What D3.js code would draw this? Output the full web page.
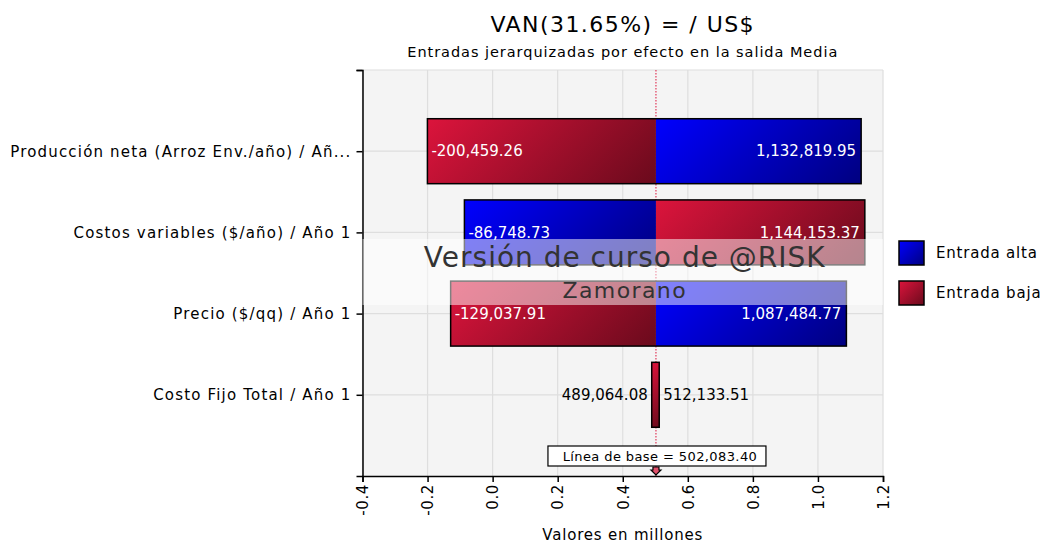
<!DOCTYPE html>
<html>
<head>
<meta charset="utf-8">
<script src="https://cdn.jsdelivr.net/npm/d3@7"></script>
<style>
  html, body { margin: 0; padding: 0; background: #fff; }
  svg { display: block; font-family: "DejaVu Sans", Verdana, sans-serif; }
</style>
</head>
<body>
<svg id="chart" width="1044" height="544"></svg>
<script>
// ---- data ----
const categories = [
  "Producción neta (Arroz Env./año) / Añ...",
  "Costos variables ($/año) / Año 1",
  "Precio ($/qq) / Año 1",
  "Costo Fijo Total / Año 1"
];
const leftValues  = [-200459.26, -86748.73, -129037.91, 489064.08];
const rightValues = [1132819.95, 1144153.37, 1087484.77, 512133.51];
const leftInput   = ["baja", "alta", "baja", "baja"];
const rightInput  = ["alta", "baja", "alta", "baja"];
const baselineValue = 502083.40;
const xTickValues = [-0.4, -0.2, 0.0, 0.2, 0.4, 0.6, 0.8, 1.0, 1.2];
const legendLabels = ["Entrada alta", "Entrada baja"];
const legendKeys = ["alta", "baja"];
const titleText = "VAN(31.65%) = / US$";
const subtitleText = "Entradas jerarquizadas por efecto en la salida Media";
const xAxisTitle = "Valores en millones";
const watermark1 = "Versión de curso de @RISK";
const watermark2 = "Zamorano";

// ---- layout ----
const svg = d3.select("#chart");
const plot = { left: 362.5, right: 883, top: 70, bottom: 476 };

const x = d3.scaleLinear().domain([-0.4, 1.2]).range([plot.left, plot.right]);
const y = d3.scaleLinear().domain([0, categories.length + 1]).range([plot.top, plot.bottom]);
const band = y(1) - y(0);
const barH = band * 0.8;

const hyph = s => s.replace(/\u2212/g, "-");
const fmt = v => hyph(d3.format(",.2f")(v));
const tickFmt = v => hyph(d3.format(".1f")(v));

const colors = {
  alta: ["#0000ff", "#000080"],
  baja: ["#dc143c", "#6a0a1c"]
};

// gradients (45 degrees in pixel space, per shape)
const defs = svg.append("defs");
let gid = 0;
function gradFor(key, rx, ry, w, h) {
  const id = "g" + (gid++);
  const s = (w + h) / 2;
  const g = defs.append("linearGradient").attr("id", id)
    .attr("gradientUnits", "userSpaceOnUse")
    .attr("x1", rx).attr("y1", ry).attr("x2", rx + s).attr("y2", ry + s);
  g.append("stop").attr("offset", "0%").attr("stop-color", colors[key][0]);
  g.append("stop").attr("offset", "100%").attr("stop-color", colors[key][1]);
  return `url(#${id})`;
}

// plot background
svg.append("rect").attr("x", plot.left).attr("y", plot.top)
  .attr("width", plot.right - plot.left).attr("height", plot.bottom - plot.top)
  .attr("fill", "#f4f4f4");

// grid
const grid = svg.append("g");
grid.selectAll("line.v").data(xTickValues).join("line")
  .attr("x1", d => x(d)).attr("x2", d => x(d))
  .attr("y1", plot.top).attr("y2", plot.bottom)
  .attr("stroke", "#dedede").attr("stroke-width", 1.2);
grid.selectAll("line.h").data(d3.range(0, categories.length + 1)).join("line")
  .attr("x1", plot.left).attr("x2", plot.right)
  .attr("y1", d => y(d)).attr("y2", d => y(d))
  .attr("stroke", "#dedede").attr("stroke-width", 1.2);

// baseline dotted line
const bx = x(baselineValue / 1e6);
svg.append("line").attr("x1", bx).attr("x2", bx)
  .attr("y1", plot.top).attr("y2", plot.bottom)
  .attr("stroke", "#dc143c").attr("stroke-width", 1).attr("stroke-dasharray", "1.5,1.5");

// bars
const rows = categories.map((c, i) => ({
  i, cat: c, lv: leftValues[i], rv: rightValues[i], li: leftInput[i], ri: rightInput[i]
}));
const bars = svg.append("g");
rows.forEach(r => {
  const cy = y(r.i + 1);
  const y0 = cy - barH / 2;
  const xl = x(r.lv / 1e6), xr = x(r.rv / 1e6);
  const single = r.li === r.ri;
  if (single) {
    bars.append("rect").attr("x", xl).attr("y", y0).attr("width", xr - xl).attr("height", barH)
      .attr("fill", gradFor(r.li, xl, y0, xr - xl, barH));
  } else {
    bars.append("rect").attr("x", xl).attr("y", y0).attr("width", bx - xl).attr("height", barH)
      .attr("fill", gradFor(r.li, xl, y0, bx - xl, barH));
    bars.append("rect").attr("x", bx).attr("y", y0).attr("width", xr - bx).attr("height", barH)
      .attr("fill", gradFor(r.ri, bx, y0, xr - bx, barH));
  }
  bars.append("rect").attr("x", xl).attr("y", y0).attr("width", xr - xl).attr("height", barH)
    .attr("fill", "none").attr("stroke", "#000").attr("stroke-width", 1.5);
  const inside = (bx - xl) > 110;
  bars.append("text")
    .attr("x", inside ? xl + 4 : xl - 4).attr("y", cy).attr("dy", "0.35em")
    .attr("text-anchor", inside ? "start" : "end")
    .attr("fill", inside ? "#fff" : "#000").attr("font-size", 15)
    .text(fmt(r.lv));
  const inside2 = (xr - bx) > 110;
  bars.append("text")
    .attr("x", inside2 ? xr - 5 : xr + 4).attr("y", cy).attr("dy", "0.35em")
    .attr("text-anchor", inside2 ? "end" : "start")
    .attr("fill", inside2 ? "#fff" : "#000").attr("font-size", 15)
    .text(fmt(r.rv));
});

// axes
const xAxis = svg.append("g").attr("transform", `translate(0,${plot.bottom})`)
  .call(d3.axisBottom(x).tickValues(xTickValues).tickFormat(tickFmt).tickSizeOuter(0).tickSize(6));
xAxis.select(".domain").attr("stroke", "#000").attr("stroke-width", 1.5);
xAxis.selectAll(".tick line").attr("stroke", "#000").attr("stroke-width", 1.5);
xAxis.selectAll(".tick text")
  .attr("font-family", "'DejaVu Sans', Verdana, sans-serif").attr("font-size", 15).attr("fill", "#000")
  .attr("letter-spacing", 0.6)
  .attr("transform", "rotate(-90)")
  .attr("text-anchor", "end").attr("x", -8).attr("y", 0).attr("dy", "0.35em");

const yAxis = svg.append("g").attr("transform", `translate(${plot.left},0)`)
  .call(d3.axisLeft(y).tickValues(d3.range(0, categories.length + 1))
    .tickFormat(d => d === 0 ? "" : categories[d - 1]).tickSizeOuter(0).tickSize(6).tickPadding(5));
yAxis.select(".domain").attr("stroke", "#000").attr("stroke-width", 1.5);
yAxis.selectAll(".tick line").attr("stroke", "#000").attr("stroke-width", 1.5);
yAxis.selectAll(".tick text")
  .attr("font-family", "'DejaVu Sans', Verdana, sans-serif").attr("font-size", 15).attr("fill", "#000")
  .attr("letter-spacing", 1.18);

// baseline label box
const boxW = 218, boxH = 20, boxY = 446;
svg.append("rect").attr("x", bx - boxW / 2 + 1).attr("y", boxY).attr("width", boxW).attr("height", boxH)
  .attr("fill", "#fff").attr("stroke", "#000").attr("stroke-width", 1.2);
svg.append("text").attr("x", bx + 4).attr("y", boxY + boxH / 2).attr("dy", "0.35em")
  .attr("text-anchor", "middle").attr("font-size", 13).attr("letter-spacing", 0.4).attr("fill", "#000")
  .text("Línea de base = " + fmt(baselineValue));
svg.append("path")
  .attr("d", `M${bx - 3},${plot.bottom - 9} L${bx + 3},${plot.bottom - 9} L${bx + 3},${plot.bottom - 6} L${bx + 5},${plot.bottom - 6} L${bx},${plot.bottom - 1} L${bx - 5},${plot.bottom - 6} L${bx - 3},${plot.bottom - 6} Z`)
  .attr("fill", "#e0506a").attr("stroke", "#000").attr("stroke-width", 1.2);

// watermark band
svg.append("rect").attr("x", plot.left).attr("y", 239).attr("width", plot.right - plot.left).attr("height", 66)
  .attr("fill", "#fff").attr("opacity", 0.5);
const cx = (plot.left + plot.right) / 2;
svg.append("text").attr("x", cx + 2).attr("y", 267).attr("text-anchor", "middle")
  .attr("font-size", 28).attr("letter-spacing", 1).attr("fill", "#333").text(watermark1);
svg.append("text").attr("x", cx + 2).attr("y", 298).attr("text-anchor", "middle")
  .attr("font-size", 22).attr("letter-spacing", 1.4).attr("fill", "#333").text(watermark2);

// titles
svg.append("text").attr("x", cx).attr("y", 32).attr("text-anchor", "middle")
  .attr("font-size", 22).attr("letter-spacing", 1.45).attr("fill", "#000").text(titleText);
svg.append("text").attr("x", cx).attr("y", 57).attr("text-anchor", "middle")
  .attr("font-size", 14.5).attr("letter-spacing", 0.95).attr("fill", "#000").text(subtitleText);
svg.append("text").attr("x", cx).attr("y", 540).attr("text-anchor", "middle")
  .attr("font-size", 15).attr("letter-spacing", 0.8).attr("fill", "#000").text(xAxisTitle);

// legend
const lg = svg.append("g");
legendKeys.forEach((k, i) => {
  const ly = 241 + i * 40;
  lg.append("rect").attr("x", 899).attr("y", ly).attr("width", 25).attr("height", 24)
    .attr("fill", gradFor(k, 899, ly, 25, 24)).attr("stroke", "#000").attr("stroke-width", 1.5);
  lg.append("text").attr("x", 936).attr("y", ly + 12).attr("dy", "0.35em")
    .attr("font-size", 15).attr("letter-spacing", 0.8).attr("fill", "#000").text(legendLabels[i]);
});
</script>
</body>
</html>
